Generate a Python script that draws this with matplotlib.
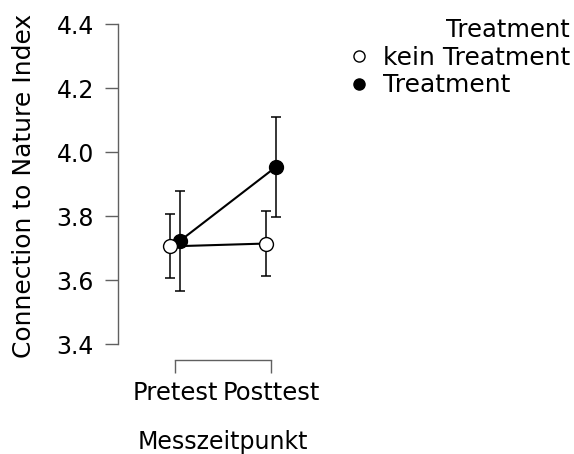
import numpy as np
import matplotlib
matplotlib.use("Agg")
import matplotlib.pyplot as plt
from matplotlib.lines import Line2D

# data
zeitpunkte = ["Pretest", "Posttest"]
gruppen = ["kein Treatment", "Treatment"]
mean_kein = [3.705, 3.714]
lower_kein = [3.605, 3.613]
upper_kein = [3.806, 3.815]
mean_treat = [3.722, 3.953]
lower_treat = [3.566, 3.797]
upper_treat = [3.878, 4.108]
y_ticks = [3.4, 3.6, 3.8, 4.0, 4.2, 4.4]

plt.rcParams["font.family"] = "DejaVu Sans"

fig = plt.figure(figsize=(5.74, 4.54), dpi=100)
ax = fig.add_axes([118 / 574, 94 / 454, 210 / 574, 336 / 454])

x = np.arange(len(zeitpunkte))
dodge = 0.05
axis_grey = "#606060"

series = [
    # draw Treatment first so the open circles sit on top
    ("Treatment", x + dodge, mean_treat, lower_treat, upper_treat, "black"),
    ("kein Treatment", x - dodge, mean_kein, lower_kein, upper_kein, "white"),
]
for i, (name, xs, m, lo, up, face) in enumerate(series):
    m = np.array(m)
    yerr = [m - np.array(lo), np.array(up) - m]
    ax.errorbar(xs, m, yerr=yerr, fmt="none", ecolor="black", elinewidth=1.1,
                capsize=3.8, capthick=1.1, zorder=1)
    ax.plot(xs, m, color="black", lw=1.5, zorder=2)
    ax.plot(xs, m, ls="none", marker="o", ms=10, mfc=face, mec="black",
            mew=1.0, zorder=3 + i)

ax.set_xlim(-0.594, 1.594)
ax.set_ylim(3.35, 4.4)
ax.set_xticks(x)
ax.set_xticklabels(zeitpunkte, fontsize=17.5)
ax.set_yticks(y_ticks)
ax.set_yticklabels([f"{t:.1f}" for t in y_ticks], fontsize=17)

for side in ["top", "right"]:
    ax.spines[side].set_visible(False)
ax.spines["left"].set_bounds(3.4, 4.4)
ax.spines["bottom"].set_bounds(0, 1)
for side in ["left", "bottom"]:
    ax.spines[side].set_color(axis_grey)
    ax.spines[side].set_linewidth(1.0)
ax.tick_params(axis="both", direction="out", length=9.4, width=1.0,
               color=axis_grey, labelcolor="black")
ax.tick_params(axis="y", pad=8)
ax.tick_params(axis="x", pad=6)

ax.set_ylabel("Connection to Nature Index", fontsize=18)
ax.yaxis.set_label_coords(-0.39, 0.519)
ax.set_xlabel("Messzeitpunkt", fontsize=17)
ax.xaxis.set_label_coords(0.5, -0.265)
ax.xaxis.label.set_va("baseline")

handles = [
    Line2D([], [], ls="none", marker="o", ms=8, mfc="white", mec="black", mew=1.0),
    Line2D([], [], ls="none", marker="o", ms=8, mfc="black", mec="black", mew=1.0),
]
leg = fig.legend(handles, gruppen, title="Treatment", loc="upper right",
                 bbox_to_anchor=(570 / 574, 1 - 18 / 454), frameon=False,
                 fontsize=18, title_fontsize=17.5, alignment="right",
                 handletextpad=0.5, handlelength=0.9, labelspacing=0.15,
                 borderpad=0.0, borderaxespad=0.0)

fig.savefig("out.png", dpi=100)
